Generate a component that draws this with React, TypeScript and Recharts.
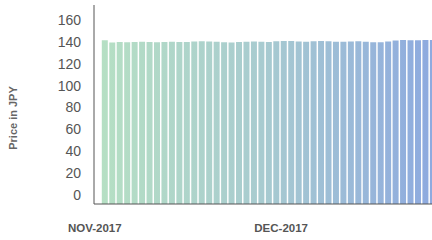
import { BarChart, Bar, XAxis, YAxis } from "recharts";

// daily price readings, left to right
const prices = [
  141.5,
  139.5, 139.8, 139.6, 139.9, 140.1, 139.8, 139.7, 139.9, 140.0,
  139.8, 139.9, 140.3, 140.6, 140.4, 140.0, 139.7, 139.5, 139.9, 140.2,
  140.4, 140.1, 139.8, 140.6, 140.9, 140.7, 140.3, 140.1, 140.5, 140.8,
  140.6, 140.2, 140.0, 140.3, 140.5, 140.1, 139.7, 139.6, 140.4, 141.2,
  141.6, 141.4, 141.5, 141.7, 141.6, 141.8,
];

// where each month starts in the series
const monthStarts = [0, 25];
const monthLabels = ["NOV-2017", "DEC-2017"];

const yTicks = [0, 20, 40, 60, 80, 100, 120, 140, 160];
const yFloor = -8.2;

const data = prices.map((price, idx) => ({ idx, price }));

const MonthTick = (props: any) => {
  const { x, y, payload } = props;
  const label = monthLabels[monthStarts.indexOf(payload.value)] ?? "";
  return (
    <text
      x={x - 10}
      y={y}
      dy={8}
      textAnchor="middle"
      fontFamily="Liberation Sans, Arial, sans-serif"
      fontSize={11.5}
      fontWeight="bold"
      fill="#555"
    >
      {label}
    </text>
  );
};

const AxisTitle = () => (
  <text
    x={13}
    y={118}
    transform="rotate(-90, 13, 118)"
    textAnchor="middle"
    dominantBaseline="central"
    fontFamily="Liberation Sans, Arial, sans-serif"
    fontSize={11}
    fontWeight="bold"
    fill="#666"
  >
    Price in JPY
  </text>
);

export default function App() {
  return (
    <div style={{ position: "absolute", left: 0, top: 0 }}>
      <BarChart
        width={432}
        height={240}
        data={data}
        margin={{ top: 5, right: -12, bottom: 0, left: 0 }}
        barCategoryGap={0.8}
      >
        <defs>
          <linearGradient id="priceFill" gradientUnits="userSpaceOnUse" x1={94} y1={0} x2={431} y2={0}>
            <stop offset="0%" stopColor="#b6e0c3" />
            <stop offset="50%" stopColor="#a8cbd0" />
            <stop offset="100%" stopColor="#8eaadf" />
          </linearGradient>
        </defs>
        <XAxis
          dataKey="idx"
          type="category"
          ticks={monthStarts}
          tick={<MonthTick />}
          tickLine={false}
          tickSize={0}
          tickMargin={20}
          height={36}
          padding={{ left: 7, right: 0 }}
          axisLine={{ stroke: "#555", strokeWidth: 1 }}
          interval={0}
        />
        <YAxis
          width={94}
          domain={[yFloor, 173.7]}
          ticks={yTicks}
          allowDataOverflow
          tickLine={false}
          tickSize={0}
          tickMargin={13}
          axisLine={{ stroke: "#555", strokeWidth: 1 }}
          tick={{ fontFamily: "Liberation Sans, Arial, sans-serif", fontSize: 14, fill: "#555" }}
          label={<AxisTitle />}
        />
        <Bar
          dataKey={(d: { price: number }) => [yFloor, d.price]}
          fill="url(#priceFill)"
          isAnimationActive={false}
        />
      </BarChart>
    </div>
  );
}
